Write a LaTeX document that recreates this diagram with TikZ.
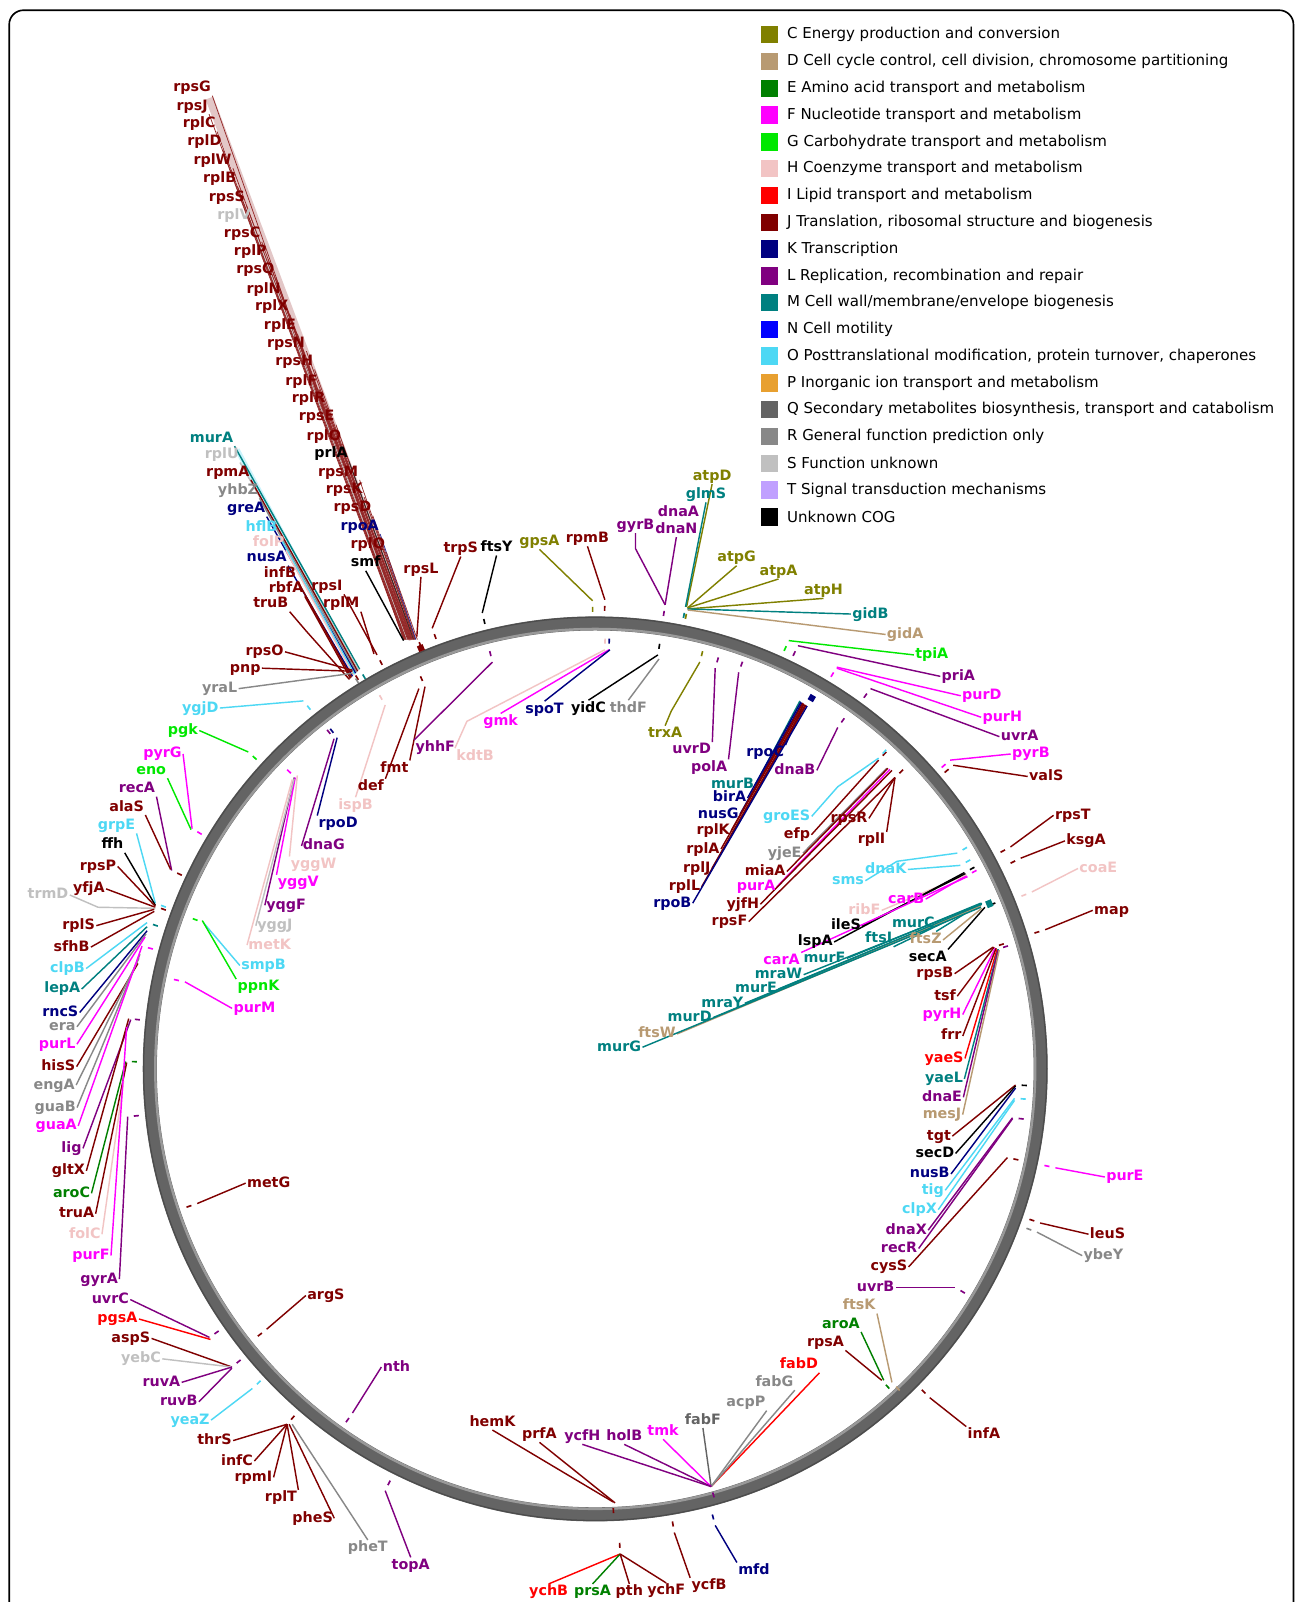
\documentclass[tikz,border=0pt]{standalone}
\usepackage{fontspec}
\newfontfamily\dvs{DejaVu Sans}
\usetikzlibrary{calc}
\pgfdeclarelayer{back}
\pgfdeclarelayer{bg}
\pgfsetlayers{back,bg,main}
\definecolor{cC}{HTML}{808000}
\definecolor{cD}{HTML}{B89A72}
\definecolor{cE}{HTML}{008000}
\definecolor{cF}{HTML}{FF00FF}
\definecolor{cG}{HTML}{00E800}
\definecolor{cH}{HTML}{F2C4C4}
\definecolor{cI}{HTML}{FF0000}
\definecolor{cJ}{HTML}{800000}
\definecolor{cK}{HTML}{000080}
\definecolor{cL}{HTML}{800080}
\definecolor{cM}{HTML}{008080}
\definecolor{cN}{HTML}{0000FF}
\definecolor{cO}{HTML}{4DD8F4}
\definecolor{cP}{HTML}{E8A030}
\definecolor{cQ}{HTML}{646464}
\definecolor{cR}{HTML}{888888}
\definecolor{cS}{HTML}{C0C0C0}
\definecolor{cT}{HTML}{C0A0FF}
\definecolor{cU}{HTML}{000000}
\definecolor{ringc}{HTML}{646464}
\tikzset{
 lab/.style={font=\dvs\bfseries\fontsize{7}{8}\selectfont, inner sep=0.5pt, text height=5.1pt, text depth=1.2pt},
 cn/.style={line width=0.7pt},
 cnb/.style={line width=0.35pt},
 tk/.style={line width=0.8pt},
 lsq/.style={minimum size=8.5pt, inner sep=0pt, draw=none},
 ltx/.style={font=\dvs\fontsize{7.35}{9}\selectfont, anchor=west, inner sep=0pt}
}
\newcommand\gnA[6]{\node[lab,text=#2] (L#1) at (#3) {#4};\coordinate (T#1) at (#6);\begin{pgfonlayer}{bg}\draw[cn,draw=#2] (L#1.#5) -- (T#1);\end{pgfonlayer}}
\newcommand\gnB[6]{\coordinate (T#1) at (#6);\node[lab,text=#2] (L#1) at (#3) {#4};\begin{pgfonlayer}{bg}\draw[cnb,draw=#2!85] (L#1.#5) -- (T#1);\end{pgfonlayer}}
\newcommand\gnV[7]{\node[lab,text=#2] (L#1) at (#3) {#4};\coordinate (V#1) at (#6);\coordinate (T#1) at (#7);\begin{pgfonlayer}{bg}\draw[cn,draw=#2] (L#1.#5) -- (V#1) -- (T#1);\end{pgfonlayer}}
\newcommand\tkO[2]{\draw[tk,draw=#2] ($(T#1)!3pt!(C)$) -- ($(T#1)!5.5pt!(C)$);}
\newcommand\tkI[2]{\draw[tk,draw=#2] ($(T#1)!-3pt!(C)$) -- ($(T#1)!-5.5pt!(C)$);}
\newcommand\legrow[4]{\node[lsq,fill=#2] (k#1) at (753,#3) {};\node[ltx] (d#1) at (770,#3) {#4};}
\begin{document}
\begin{tikzpicture}[x=0.5pt,y=-0.5pt]
\useasboundingbox (0,0) rectangle (1268,1568);
\begin{pgfonlayer}{back}
\fill[white] (0,0) rectangle (1268,1568);
\draw[line width=4pt, draw=cJ!22] (205,96) -- (404,626);
\draw[line width=2.5pt, draw=cO!30] (232,440) -- (349,657);
\end{pgfonlayer}
\draw[line width=0.8pt, rounded corners=7pt] (9,10) rectangle (1266,1640);
\coordinate (C) at (582.6,1046.2);
% ring
\draw[line width=6.9pt, draw=ringc] (C) circle[radius=218pt];
\draw[line width=1.2pt, draw=black!40] (C) circle[radius=215.3pt];
\draw[line width=0.6pt, draw=black!70] (C) circle[radius=221pt];
% legend
\legrow{0}{cC}{34}{C Energy production and conversion}
\legrow{1}{cD}{60.2}{D Cell cycle control, cell division, chromosome partitioning}
\legrow{2}{cE}{86.4}{E Amino acid transport and metabolism}
\legrow{3}{cF}{112.7}{F Nucleotide transport and metabolism}
\legrow{4}{cG}{138.9}{G Carbohydrate transport and metabolism}
\legrow{5}{cH}{165.1}{H Coenzyme transport and metabolism}
\legrow{6}{cI}{191.3}{I Lipid transport and metabolism}
\legrow{7}{cJ}{217.5}{J Translation, ribosomal structure and biogenesis}
\legrow{8}{cK}{243.8}{K Transcription}
\legrow{9}{cL}{270}{L Replication, recombination and repair}
\legrow{10}{cM}{296.2}{M Cell wall/membrane/envelope biogenesis}
\legrow{11}{cN}{322.4}{N Cell motility}
\legrow{12}{cO}{348.6}{O Posttranslational modification, protein turnover, chaperones}
\legrow{13}{cP}{374.9}{P Inorganic ion transport and metabolism}
\legrow{14}{cQ}{401.1}{Q Secondary metabolites biosynthesis, transport and catabolism}
\legrow{15}{cR}{427.3}{R General function prediction only}
\legrow{16}{cS}{453.5}{S Function unknown}
\legrow{17}{cT}{479.7}{T Signal transduction mechanisms}
\legrow{18}{cU}{506}{Unknown COG}
% J bundle
\gnB{rpsG}{cJ}{188,86}{rpsG}{south east}{395,626}
\gnB{rpsJ}{cJ}{188,104}{rpsJ}{south east}{395.5,626}
\gnB{rplC}{cJ}{195,121}{rplC}{south east}{396,626}
\gnB{rplD}{cJ}{200,139}{rplD}{south east}{396.5,626}
\gnB{rplW}{cJ}{208,157}{rplW}{south east}{397,626}
\gnB{rplB}{cJ}{215,175}{rplB}{south east}{397.5,626}
\gnB{rpsS}{cJ}{222,193}{rpsS}{south east}{398,626}
\gnB{rplV}{cS}{229,211}{rplV}{south east}{398.5,626}
\gnB{rpsC}{cJ}{237,229}{rpsC}{south east}{399,626}
\gnB{rplP}{cJ}{245,246}{rplP}{south east}{399.5,626}
\gnB{rpsQ}{cJ}{250,264}{rpsQ}{south east}{400,626}
\gnB{rplN}{cJ}{258,283}{rplN}{south east}{400.5,626}
\gnB{rplX}{cJ}{266,300}{rplX}{south east}{401,626}
\gnB{rplE}{cJ}{274,319}{rplE}{south east}{401.5,626}
\gnB{rpsN}{cJ}{280,336}{rpsN}{south east}{402,626}
\gnB{rpsH}{cJ}{288,354}{rpsH}{south east}{402.5,626}
\gnB{rplF}{cJ}{295,373}{rplF}{south east}{403,626}
\gnB{rplR}{cJ}{302,390}{rplR}{south east}{403.5,626}
\gnB{rpsE}{cJ}{310,408}{rpsE}{south east}{404,626}
\gnB{rplO}{cJ}{317,427}{rplO}{south east}{404.5,626}
\gnB{prlA}{cU}{324,444}{prlA}{south east}{405,626}
\gnB{rpsM}{cJ}{331,462}{rpsM}{south east}{405.5,626}
\gnB{rpsK}{cJ}{337,479}{rpsK}{south east}{406,626}
\gnB{rpsD}{cJ}{345,497}{rpsD}{south east}{406.5,626}
\gnB{rpoA}{cK}{352,515}{rpoA}{south east}{407,626}
\gnB{rplQ}{cJ}{360,533}{rplQ}{south east}{408.5,626}
\gnA{smf}{cU}{358,551}{smf}{south}{395,627}
% murA group
\gnA{murA}{cM}{207,429}{murA}{south east}{352,655}
\gnA{rplU}{cS}{217,445}{rplU}{south east}{351,656}
\gnA{rpmA}{cJ}{223,462}{rpmA}{south east}{350,657}
\gnA{yhbZ}{cR}{233,480}{yhbZ}{south east}{349,658}
\gnA{greA}{cK}{241,498}{greA}{south east}{348,659}
\gnA{hflB}{cO}{256,516}{hflB}{south east}{347,660}
\gnA{folP}{cH}{263,531}{folP}{south east}{346,661}
\gnA{nusA}{cK}{261,546}{nusA}{south east}{345,662}
\gnA{infB}{cJ}{274,561}{infB}{south east}{344,663}
\gnA{rbfA}{cJ}{280,576}{rbfA}{south east}{343,664}
\gnV{truB}{cJ}{265,591}{truB}{south east}{300,618}{342,665}
\gnA{rpsI}{cJ}{320,574}{rpsI}{south east}{369,641}
\gnA{rplM}{cJ}{334,591}{rplM}{south east}{366,640}
% left outer
\gnA{rpsO}{cJ}{259,638}{rpsO}{east}{345,656}
\gnA{pnp}{cJ}{240,654}{pnp}{east}{345,657}
\gnA{yraL}{cR}{215,674}{yraL}{east}{345,659}
\gnA{ygjD}{cO}{196,693}{ygjD}{east}{297,686}
\gnA{pgk}{cG}{179,715}{pgk}{east}{243,736}
\gnA{pyrG}{cF}{159,738}{pyrG}{east}{188,811}
\gnA{eno}{cG}{148,754}{eno}{south east}{187,812}
\gnA{recA}{cL}{134,772}{recA}{south east}{168,852}
\gnA{alaS}{cJ}{124,790}{alaS}{south east}{167,851}
\gnA{grpE}{cO}{114,808}{grpE}{south east}{152,884}
\gnA{ffh}{cU}{110,827}{ffh}{south east}{152,886}
\gnA{rpsP}{cJ}{96,848}{rpsP}{east}{152,887}
\gnA{yfjA}{cJ}{87,870}{yfjA}{east}{152,888}
\gnV{trmD}{cS}{47,876}{trmD}{east}{96,888}{152,889}
\gnA{rplS}{cJ}{77,906}{rplS}{east}{151,890}
\gnA{sfhB}{cJ}{70,927}{sfhB}{east}{151,892}
\gnA{clpB}{cO}{66,948}{clpB}{east}{144,903}
\gnA{lepA}{cM}{61,968}{lepA}{east}{144,907}
\gnA{rncS}{cK}{59,991}{rncS}{east}{144,911}
\gnA{era}{cR}{61,1005}{era}{east}{143,914}
\gnA{purL}{cF}{56,1022}{purL}{east}{142,917}
\gnA{hisS}{cJ}{57,1044}{hisS}{east}{135,943}
\gnA{engA}{cR}{53,1062}{engA}{east}{136,938}
\gnA{guaB}{cR}{54,1084}{guaB}{east}{137,934}
\gnA{guaA}{cF}{55,1102}{guaA}{east}{139,926}
\gnA{lig}{cL}{70,1124}{lig}{east}{128,998}
\gnA{gltX}{cJ}{67,1146}{gltX}{east}{126,997}
\gnA{aroC}{cE}{70,1168}{aroC}{east}{123,1039}
\gnA{truA}{cJ}{75,1188}{truA}{east}{124,1040}
\gnA{folC}{cH}{83,1208}{folC}{east}{121,1058}
\gnA{purF}{cF}{89,1229}{purF}{east}{124,1005}
\gnA{gyrA}{cL}{97,1252}{gyrA}{east}{125,1093}
\gnA{uvrC}{cL}{108,1272}{uvrC}{east}{205,1309}
\gnA{pgsA}{cI}{115,1291}{pgsA}{east}{206,1311}
\gnA{aspS}{cJ}{128,1310}{aspS}{east}{227,1338}
\gnA{yebC}{cS}{138,1330}{yebC}{east}{227,1338}
\gnA{ruvA}{cL}{158,1353}{ruvA}{east}{227,1338}
\gnA{ruvB}{cL}{175,1372}{ruvB}{east}{227,1339}
\gnA{yeaZ}{cO}{186,1390}{yeaZ}{east}{247,1359}
\gnA{thrS}{cJ}{210,1410}{thrS}{east}{281,1394}
\gnA{infC}{cJ}{232,1430}{infC}{east}{281,1394}
\gnA{rpmI}{cJ}{248,1446}{rpmI}{east}{281,1394}
\gnA{rplT}{cJ}{275,1466}{rplT}{north east}{281,1394}
\gnA{pheS}{cJ}{306,1486}{pheS}{east}{283,1394}
\gnA{pheT}{cR}{360,1515}{pheT}{north}{286,1394}
\gnA{topA}{cL}{402,1532}{topA}{north}{377,1459}
% inner left
\gnA{metG}{cJ}{263,1158}{metG}{west}{193,1178}
\gnA{argS}{cJ}{319,1268}{argS}{west}{261,1301}
\gnA{nth}{cL}{388,1338}{nth}{west}{345,1383}
\gnA{smpB}{cO}{258,945}{smpB}{west}{199,903}
\gnA{ppnK}{cG}{253,966}{ppnK}{north west}{198,901}
\gnA{purM}{cF}{249,987}{purM}{west}{181,961}
\gnA{yggV}{cF}{292,864}{yggV}{north west}{289,761}
\gnA{yqgF}{cL}{280,886}{yqgF}{west}{288,761}
\gnA{yggJ}{cS}{269,906}{yggJ}{west}{288,762}
\gnA{metK}{cH}{264,925}{metK}{west}{286,763}
\gnA{yggW}{cH}{307,846}{yggW}{north west}{291,759}
\gnA{dnaG}{cL}{317,828}{dnaG}{west}{327,723}
\gnA{rpoD}{cK}{331,806}{rpoD}{north west}{330,722}
\gnA{ispB}{cH}{348,788}{ispB}{north}{377,690}
\gnA{def}{cJ}{363,770}{def}{north east}{410,674}
\gnA{fmt}{cJ}{386,752}{fmt}{north east}{416,672}
\gnA{yhhF}{cL}{426,732}{yhhF}{north west}{482,648}
\gnV{kdtB}{cH}{465,740}{kdtB}{north west}{457,706}{592,636}
\gnA{gmk}{cF}{490,706}{gmk}{north}{596,636}
\gnA{spoT}{cK}{533,694}{spoT}{north}{597,636}
\gnA{yidC}{cU}{576,693}{yidC}{north}{644,641}
\gnA{thdF}{cR}{615,693}{thdF}{north}{645,645}
\gnV{trxA}{cC}{651,718}{trxA}{north}{657,696}{685,648}
\gnA{uvrD}{cL}{677,734}{uvrD}{north east}{700,654}
\gnA{polA}{cL}{694,751}{polA}{north east}{723,658}
\gnA{rpoC}{cK}{749,737}{rpoC}{north east}{786,690}
\gnA{dnaB}{cL}{778,754}{dnaB}{east}{820,712}
% top outer
\gnA{rpsL}{cJ}{412,557}{rpsL}{south}{408,623}
\gnA{trpS}{cJ}{451,537}{trpS}{south}{423,615}
\gnA{ftsY}{cU}{486,536}{ftsY}{south}{472,600}
\gnA{gpsA}{cC}{528,530}{gpsA}{south}{580,588}
\gnA{rpmB}{cJ}{575,527}{rpmB}{south}{592,587}
\gnV{gyrB}{cL}{622,514}{gyrB}{south}{622,537}{651,592}
\gnA{dnaN}{cL}{662,518}{dnaN}{south}{651,592}
\node[lab,text=cL] (LdnaA) at (664,502) {dnaA};
\gnA{atpD}{cC}{697,466}{atpD}{south}{672,594}
\gnA{glmS}{cM}{691,484}{glmS}{south}{671,594}
\gnA{atpG}{cC}{721,546}{atpG}{south}{673,595}
\gnA{atpA}{cC}{762,559}{atpA}{south}{673,595}
\gnA{atpH}{cC}{806,578}{atpH}{south}{673,596}
\gnA{gidB}{cM}{852,601}{gidB}{west}{673,596}
\gnA{gidA}{cD}{886,621}{gidA}{west}{673,597}
\gnA{tpiA}{cG}{912,641}{tpiA}{west}{772,627}
\gnA{priA}{cL}{938,662}{priA}{west}{781,632}
\gnA{purD}{cF}{961,681}{purD}{west}{819,653}
\gnA{purH}{cF}{981,702}{purH}{west}{819,654}
\gnA{uvrA}{cL}{998,721}{uvrA}{west}{852,674}
\gnA{pyrB}{cF}{1009,738}{pyrB}{west}{930,744}
\gnA{valS}{cJ}{1024,760}{valS}{west}{933,749}
\gnA{rpsT}{cJ}{1050,798}{rpsT}{west}{989,829}
\gnA{ksgA}{cJ}{1063,823}{ksgA}{west}{999,840}
\gnA{coaE}{cH}{1075,850}{coaE}{west}{1010,873}
\gnA{map}{cJ}{1088,891}{map}{west}{1023,910}
% inner right bundles
\gnA{murB}{cM}{717,768}{murB}{east}{783,686}
\gnA{birA}{cK}{714,781}{birA}{east}{784,687}
\gnA{nusG}{cK}{703,797}{nusG}{east}{785,688}
\gnA{rplK}{cJ}{698,813}{rplK}{east}{786,688}
\gnA{rplA}{cJ}{688,831}{rplA}{east}{787,689}
\gnA{rplJ}{cJ}{682,850}{rplJ}{east}{788,690}
\gnA{rplL}{cJ}{670,868}{rplL}{east}{789,690}
\gnA{rpoB}{cK}{658,884}{rpoB}{east}{790,691}
\gnV{groES}{cO}{770,799}{groES}{east}{820,770}{860,742}
\gnA{efp}{cJ}{780,817}{efp}{east}{860,744}
\gnA{yjeE}{cR}{768,835}{yjeE}{east}{868,752}
\gnA{miaA}{cJ}{749,853}{miaA}{east}{869,752}
\gnA{purA}{cF}{740,868}{purA}{east}{871,753}
\gnA{yjfH}{cJ}{727,885}{yjfH}{east}{873,754}
\gnA{rpsF}{cJ}{714,902}{rpsF}{east}{876,761}
\gnA{rpsR}{cJ}{831,801}{rpsR}{east}{876,761}
\gnA{rplI}{cJ}{853,822}{rplI}{north east}{876,761}
\gnV{sms}{cO}{830,862}{sms}{east}{878,843}{937,835}
\gnA{dnaK}{cO}{867,851}{dnaK}{east}{940,847}
\gnA{carB}{cF}{887,880}{carB}{east}{946,857}
\gnA{ribF}{cH}{846,891}{ribF}{east}{946,856}
\gnA{ileS}{cU}{828,906}{ileS}{east}{945,855}
\gnA{lspA}{cU}{798,922}{lspA}{east}{944,854}
\gnA{carA}{cF}{765,940}{carA}{north east}{947,858}
\gnA{murC}{cM}{894,904}{murC}{south east}{961,884}
\gnA{ftsI}{cM}{860,919}{ftsI}{south east}{961,885}
\gnA{ftsZ}{cD}{906,920}{ftsZ}{east}{961,889}
\gnA{murF}{cM}{807,938}{murF}{east}{960,884}
\gnA{mraW}{cM}{762,954}{mraW}{east}{960,885}
\gnA{murE}{cM}{740,968}{murE}{east}{960,886}
\gnA{mraY}{cM}{707,982}{mraY}{east}{960,886}
\gnA{murD}{cM}{675,996}{murD}{east}{960,887}
\gnA{ftsW}{cD}{643,1012}{ftsW}{east}{960,887}
\gnA{murG}{cM}{606,1025}{murG}{east}{960,888}
\gnA{secA}{cU}{908,937}{secA}{north east}{964,888}
\gnA{rpsB}{cJ}{915,953}{rpsB}{east}{972,927}
\gnA{tsf}{cJ}{925,975}{tsf}{east}{973,927}
\gnA{pyrH}{cF}{922,993}{pyrH}{east}{974,928}
\gnA{frr}{cJ}{931,1014}{frr}{east}{975,928}
\gnA{yaeS}{cI}{924,1036}{yaeS}{east}{976,929}
\gnA{yaeL}{cM}{924,1056}{yaeL}{east}{977,929}
\gnA{dnaE}{cL}{922,1074}{dnaE}{east}{977,930}
\gnA{mesJ}{cD}{922,1091}{mesJ}{east}{978,930}
\gnA{tgt}{cJ}{919,1112}{tgt}{east}{994,1062}
\gnA{secD}{cU}{915,1129}{secD}{east}{994,1063}
\gnA{nusB}{cK}{910,1149}{nusB}{east}{994,1065}
\gnA{tig}{cO}{913,1165}{tig}{east}{993,1075}
\gnA{clpX}{cO}{900,1184}{clpX}{east}{993,1077}
\gnA{dnaX}{cL}{887,1204}{dnaX}{east}{991,1094}
\gnA{recR}{cL}{880,1222}{recR}{east}{991,1095}
\gnA{cysS}{cJ}{870,1240}{cysS}{east}{986,1133}
% right outer & bottom
\gnA{purE}{cF}{1101,1152}{purE}{west}{1033,1143}
\gnA{leuS}{cJ}{1084,1208}{leuS}{west}{1018,1197}
\gnA{ybeY}{cR}{1080,1229}{ybeY}{west}{1015,1206}
\gnA{uvrB}{cL}{857,1260}{uvrB}{east}{935,1260}
\gnA{ftsK}{cD}{841,1278}{ftsK}{south east}{873,1353}
\gnA{aroA}{cE}{823,1296}{aroA}{south east}{865,1351}
\gnA{rpsA}{cJ}{808,1314}{rpsA}{south east}{863,1351}
\gnA{fabD}{cI}{782,1336}{fabD}{south east}{696,1455}
\gnA{fabG}{cR}{758,1353}{fabG}{south east}{696,1455}
\gnA{acpP}{cR}{730,1373}{acpP}{south east}{696,1455}
\gnA{fabF}{cQ}{688,1390}{fabF}{south}{696,1455}
\gnA{tmk}{cF}{649,1401}{tmk}{south}{696,1455}
\gnA{holB}{cL}{611,1406}{holB}{south}{696,1455}
\gnA{ycfH}{cL}{570,1406}{ycfH}{south}{696,1455}
\gnA{prfA}{cJ}{528,1404}{prfA}{south}{602,1471}
\gnA{hemK}{cJ}{482,1392}{hemK}{south}{600,1470}
\gnA{infA}{cJ}{963,1404}{infA}{north west}{910,1368}
\gnA{mfd}{cK}{738,1537}{mfd}{north west}{700,1493}
\gnA{ycfB}{cJ}{694,1552}{ycfB}{north west}{660,1500}
\gnA{ychB}{cI}{537,1558}{ychB}{north}{607,1521}
\gnA{prsA}{cE}{580,1558}{prsA}{north}{607,1521}
\gnA{pth}{cJ}{616,1558}{pth}{north}{607,1521}
\gnA{ychF}{cJ}{652,1557}{ychF}{north}{607,1521}
% ticks outside the ring
\tkO{rplQ}{cJ}\tkO{murA}{cM}\tkO{rpsO}{cJ}\tkO{rpsI}{cJ}\tkO{rpsL}{cJ}\tkO{trpS}{cJ}
\tkO{ftsY}{cU}\tkO{gpsA}{cC}\tkO{rpmB}{cJ}\tkO{gyrB}{cL}\tkO{atpG}{cC}\tkO{glmS}{cM}
\tkO{tpiA}{cG}\tkO{priA}{cL}\tkO{purD}{cF}\tkO{uvrA}{cL}\tkO{pyrB}{cF}\tkO{valS}{cJ}
\tkO{rpsT}{cJ}\tkO{ksgA}{cJ}\tkO{coaE}{cH}\tkO{map}{cJ}\tkO{purE}{cF}\tkO{leuS}{cJ}
\tkO{ybeY}{cR}\tkO{infA}{cJ}\tkO{mfd}{cK}\tkO{ycfB}{cJ}\tkO{pth}{cJ}\tkO{topA}{cL}
\tkO{thrS}{cJ}\tkO{yeaZ}{cO}\tkO{aspS}{cL}\tkO{uvrC}{cL}\tkO{gyrA}{cL}\tkO{aroC}{cE}
\tkO{gltX}{cL}\tkO{guaA}{cF}\tkO{clpB}{cM}\tkO{rpsP}{cJ}\tkO{grpE}{cO}\tkO{recA}{cJ}
\tkO{pyrG}{cF}\tkO{pgk}{cG}\tkO{ygjD}{cO}\tkO{yraL}{cR}
% ticks inside the ring
\tkI{rpoD}{cK}\tkI{dnaG}{cL}\tkI{yggV}{cF}\tkI{fmt}{cJ}\tkI{ispB}{cH}\tkI{yhhF}{cL}
\tkI{kdtB}{cH}\tkI{gmk}{cK}\tkI{yidC}{cU}\tkI{trxA}{cC}\tkI{uvrD}{cL}\tkI{polA}{cL}
\tkI{dnaB}{cL}\tkI{efp}{cJ}\tkI{rpsF}{cJ}\tkI{groES}{cO}\tkI{sms}{cO}\tkI{dnaK}{cO}
\tkI{carB}{cF}\tkI{lspA}{cU}\tkI{secA}{cU}\tkI{rpsB}{cJ}\tkI{yaeS}{cL}\tkI{tgt}{cU}
\tkI{tig}{cO}\tkI{dnaX}{cL}\tkI{cysS}{cJ}\tkI{uvrB}{cL}\tkI{ftsK}{cD}\tkI{rpsA}{cE}
\tkI{fabD}{cL}\tkI{hemK}{cJ}\tkI{nth}{cL}\tkI{argS}{cJ}\tkI{metG}{cJ}\tkI{smpB}{cG}
\tkI{purM}{cF}
\draw[line width=3pt, draw=cK] ($(TrpoB)!-3pt!(C)$) -- ($(TrpoB)!-6pt!(C)$);
\draw[line width=3.5pt, draw=cM] ($(TmurG)!-3pt!(C)$) -- ($(TmurG)!-6pt!(C)$);
\draw[line width=3pt, draw=cJ] ($(TrplQ)!3pt!(C)$) -- ($(TrplQ)!6pt!(C)$);
\end{tikzpicture}
\end{document}
